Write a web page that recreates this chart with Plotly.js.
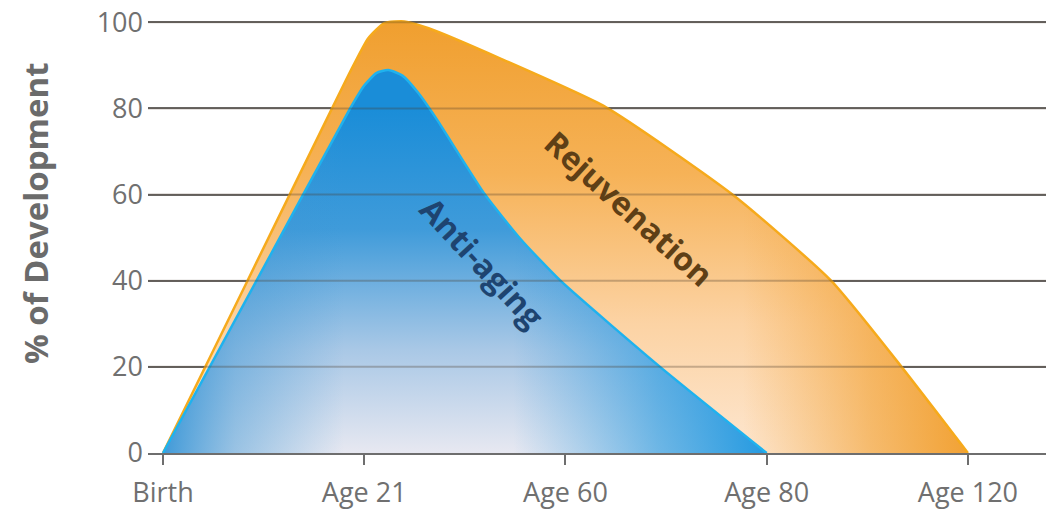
<!DOCTYPE html>
<html>
<head>
<meta charset="utf-8">
<script src="https://cdn.plot.ly/plotly-3.0.1.min.js"></script>
<style>html,body{margin:0;padding:0;background:#fff;}#chart{width:1046px;height:518px;}</style>
</head>
<body>
<div id="chart"></div>
<script>
// ---- data ----
const tickPositions = [0, 1, 2, 3, 4];
const tickLabels = ['Birth', 'Age 21', 'Age 60', 'Age 80', 'Age 120'];
const yTickValues = [0, 20, 40, 60, 80, 100];

const rejuvenationX = [0, 0.42, 0.84, 0.93, 1.02, 1.1, 1.2, 1.32, 1.68, 2.2, 2.83, 3.32, 3.67, 4.0];
const rejuvenationY = [0, 40, 80, 88.5, 96.3, 99.8, 100.2, 98.6, 91.5, 80.3, 60, 40, 20, 0];

const antiAgingX = [0, 0.465, 0.93, 1.0, 1.06, 1.12, 1.19, 1.27, 1.36, 1.6, 1.78, 1.975, 2.47, 3.0];
const antiAgingY = [0, 40, 80, 85.3, 88.2, 88.9, 87.6, 83.5, 77.5, 60, 49.5, 40, 20, 0];

const seriesNames = ['Rejuvenation', 'Anti-aging'];

// ---- traces ----
function areaTrace(name, xs, ys, line, gradient) {
  return {
    type: 'scatter', mode: line ? 'lines' : 'none', name: name,
    x: xs, y: ys,
    line: Object.assign({shape: 'spline', smoothing: 0.55, width: 0}, line || {}),
    fill: 'tozeroy', fillgradient: gradient, fillcolor: 'rgba(0,0,0,0)',
    hoverinfo: 'skip', showlegend: false
  };
}

const rejuvenationBase = areaTrace(seriesNames[0], rejuvenationX, rejuvenationY, null, {
  type: 'vertical', start: 0, stop: 100,
  colorscale: [[0, '#fde6cf'], [0.3, '#fcd3a4'], [0.65, '#f6b257'], [1, '#f09f2f']]
});
const rejuvenationEdge = areaTrace(seriesNames[0], rejuvenationX, rejuvenationY,
  {color: '#f6aa1c', width: 2.5}, {
  type: 'horizontal',
  colorscale: [[0, 'rgba(241,158,44,0)'], [0.72, 'rgba(241,158,44,0)'], [0.88, 'rgba(241,158,44,0.6)'], [1, 'rgba(241,158,44,0.95)']]
});

const antiAgingBase = areaTrace(seriesNames[1], antiAgingX, antiAgingY, null, {
  type: 'vertical', start: 0, stop: 80,
  colorscale: [[0, '#e7e8f1'], [0.3, '#a9c8e6'], [0.65, '#3f9bda'], [1, '#1a8dd8']]
});
const antiAgingEdge = areaTrace(seriesNames[1], antiAgingX, antiAgingY,
  {color: '#1fb2ee', width: 2.5}, {
  type: 'horizontal',
  colorscale: [[0, 'rgba(34,140,212,0.85)'], [0.12, 'rgba(60,150,212,0.45)'], [0.3, 'rgba(60,150,212,0)'], [0.58, 'rgba(40,150,220,0)'], [0.82, 'rgba(30,150,222,0.6)'], [1, 'rgba(26,150,224,0.95)']]
});

const gridColor = '#6e6e6e';
const tickFont = {family: 'Open Sans, sans-serif', size: 27, color: '#707070'};

// faint grid overlay so grid lines show through the filled areas
const gridOverlay = yTickValues.filter(v => v > 0).map(v => ({
  type: 'line', xref: 'paper', x0: 0, x1: 1, yref: 'y', y0: v, y1: v,
  line: {color: '#4a3a2a', width: 2}, opacity: 0.3, layer: 'above'
}));

const layout = {
  width: 1046, height: 518,
  margin: {l: 148, r: 0, t: 5, b: 65},
  paper_bgcolor: '#ffffff', plot_bgcolor: '#ffffff',
  showlegend: false,
  xaxis: {
    range: [-0.0745, 4.388],
    tickmode: 'array', tickvals: tickPositions, ticktext: tickLabels,
    showgrid: false, zeroline: false,
    showline: true, linecolor: gridColor, linewidth: 2,
    ticks: 'outside', ticklen: 10, tickwidth: 2, tickcolor: gridColor,
    ticklabelstandoff: 5,
    tickfont: tickFont, fixedrange: true
  },
  yaxis: {
    range: [0, 104],
    tickmode: 'array', tickvals: yTickValues,
    showgrid: true, gridcolor: gridColor, gridwidth: 2,
    zeroline: false, showline: false, ticks: '',
    ticklabelstandoff: 4,
    tickfont: tickFont, fixedrange: true
  },
  shapes: gridOverlay,
  annotations: [
    {
      text: '% of Development', xref: 'paper', yref: 'paper',
      x: -0.1258, y: 0.5357, xanchor: 'center', yanchor: 'middle',
      textangle: -90, showarrow: false,
      font: {family: 'Open Sans, sans-serif', size: 33, color: '#6b6b6b', weight: 'bold'}
    },
    {
      text: seriesNames[0], xref: 'x', yref: 'y', x: 2.32, y: 56.8,
      textangle: 42, showarrow: false,
      font: {family: 'Open Sans, sans-serif', size: 32, color: '#5e3f16', weight: 'bold'}
    },
    {
      text: seriesNames[1], xref: 'x', yref: 'y', x: 1.59, y: 44.3,
      textangle: 47, showarrow: false,
      font: {family: 'Open Sans, sans-serif', size: 32, color: '#1e4470', weight: 'bold'}
    }
  ]
};

Plotly.newPlot('chart', [rejuvenationBase, rejuvenationEdge, antiAgingBase, antiAgingEdge], layout, {displayModeBar: false, staticPlot: true});
</script>
</body>
</html>
